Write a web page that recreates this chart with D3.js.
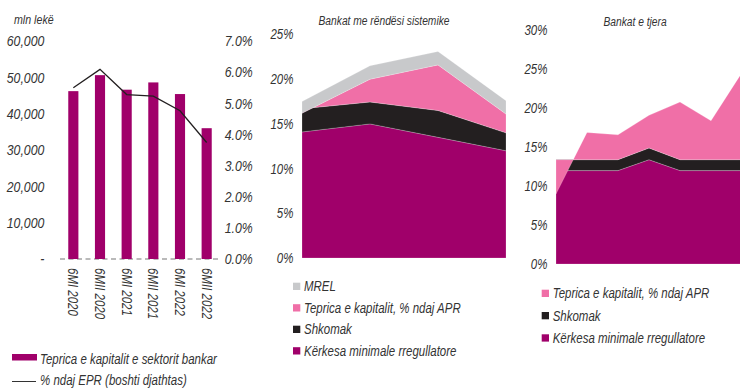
<!DOCTYPE html>
<html>
<head>
<meta charset="utf-8">
<script src="https://cdn.jsdelivr.net/npm/d3@7/dist/d3.min.js"></script>
<style>
  html, body { margin: 0; padding: 0; background: #fff; }
  svg { display: block; }
  svg text {
    font-family: "Liberation Sans", Arial, sans-serif;
    font-style: italic;
    fill: #333;
  }
</style>
</head>
<body>
<svg id="chart" width="740" height="390"></svg>
<script>
// ---- Panel 1: capital surplus of the banking sector ----
const barLabels = ["6MI 2020", "6MII 2020", "6MI 2021", "6MII 2021", "6MI 2022", "6MII 2022"];
const capitalSurplus = [46200, 50600, 46600, 48600, 45400, 36000];   // mln lekë
const surplusPctRWA = [5.50, 6.09, 5.28, 5.23, 4.76, 3.74];         // % of RWA
const leftTicks = [0, 10000, 20000, 30000, 40000, 50000, 60000];
const rightTicks = [0, 1, 2, 3, 4, 5, 6, 7];

// ---- Panel 2: systemically important banks (stacked, %) ----
const sysMinReq  = [14.1, 15.0, 13.5, 12.0];
const sysBuffer  = [2.6, 2.45, 3.0, 2.0];
const sysSurplus = [-0.5, 2.55, 5.1, 2.1];
const sysMrel    = [1.3, 1.5, 1.5, 1.5];
const sysTicks   = [0, 5, 10, 15, 20, 25];

// ---- Panel 3: other banks (stacked, %) ----
const othMinReq  = [12.0, 12.0, 12.0, 13.4, 12.0, 12.0, 12.0];
const othBuffer  = [1.4, 1.4, 1.4, 1.5, 1.4, 1.4, 1.4];
const othSurplus = [-4.4, 3.5, 3.2, 4.2, 7.4, 5.0, 11.2];
const othTicks   = [0, 5, 10, 15, 20, 25, 30];

const C = { purple: "#a0006a", pink: "#f06fa7", black: "#231f20", grey: "#c8c9cb" };
const NARROW = 0.82;   // horizontal squeeze for a condensed look

const svg = d3.select("#chart");

// place a condensed text at (x, y)
function label(parent, x, y, str, size, anchor) {
  return parent.append("text")
    .attr("transform", `translate(${x},${y}) scale(${NARROW},1)`)
    .attr("text-anchor", anchor || "start")
    .style("font-size", size + "px")
    .text(str);
}

function styleAxis(g, size) {
  g.attr("font-family", null).attr("font-size", null);
  g.select(".domain").remove();
  g.selectAll("text")
    .style("font-size", size + "px")
    .attr("transform", `scale(${NARROW},1)`);
}

// ================= Panel 1 =================
const x1 = d3.scaleBand().domain(barLabels).range([60, 220]).paddingInner(0.62).paddingOuter(0.31);
const yL = d3.scaleLinear().domain([0, 60000]).range([259, 41]);
const yR = d3.scaleLinear().domain([0, 7]).range([259, 41]);

label(svg, 14, 24, "mln lekë", 13);

svg.append("g").attr("transform", "translate(46,0)")
  .call(d3.axisLeft(yL).tickValues(leftTicks).tickSize(0).tickPadding(2)
    .tickFormat(d => d === 0 ? "-" : d3.format(",")(d)))
  .call(g => styleAxis(g, 15));

svg.append("g").attr("transform", "translate(223,0)")
  .call(d3.axisRight(yR).tickValues(rightTicks).tickSize(0).tickPadding(2)
    .tickFormat(d => d.toFixed(1) + "%"))
  .call(g => styleAxis(g, 15));

svg.append("line")
  .attr("x1", 60).attr("x2", 220).attr("y1", yL(0)).attr("y2", yL(0))
  .attr("stroke", "#777").attr("stroke-width", 1.2).attr("stroke-dasharray", "5,3.5");

svg.append("g").selectAll("rect").data(capitalSurplus).join("rect")
  .attr("x", (d, i) => x1(barLabels[i]))
  .attr("width", x1.bandwidth())
  .attr("y", d => yL(d))
  .attr("height", d => yL(0) - yL(d))
  .attr("fill", C.purple);

svg.append("path")
  .datum(surplusPctRWA)
  .attr("fill", "none").attr("stroke", C.black).attr("stroke-width", 1.3)
  .attr("d", d3.line()
    .x((d, i) => x1(barLabels[i]) + x1.bandwidth() / 2)
    .y(d => yR(d)));

svg.append("g").selectAll("text").data(barLabels).join("text")
  .attr("transform", d => `translate(${x1(d) + x1.bandwidth() / 2},268) rotate(90) scale(${NARROW},1)`)
  .attr("dy", "0.35em")
  .style("font-size", "14px")
  .text(d => d);

// legend panel 1
svg.append("rect").attr("x", 12).attr("y", 354).attr("width", 25).attr("height", 6.5).attr("fill", C.purple);
label(svg, 40, 363.5, "Teprica e kapitalit e sektorit bankar", 14);
svg.append("line").attr("x1", 12).attr("x2", 36).attr("y1", 381.5).attr("y2", 381.5).attr("stroke", "#333").attr("stroke-width", 1);
label(svg, 40, 384.5, "% ndaj EPR (boshti djathtas)", 14);

// ================= Stacked area panels =================
function stackedPanel(opts) {
  const n = opts.series[0].values.length;
  const rows = d3.range(n).map(i => {
    const r = {};
    opts.series.forEach(s => r[s.key] = s.values[i]);
    return r;
  });
  const keys = opts.series.map(s => s.key);
  // plain sequential stacking: a negative value folds back over the layer below
  const stacked = d3.stack().keys(keys).offset(d3.stackOffsetNone)(rows);

  const x = d3.scalePoint().domain(d3.range(n)).range(opts.xRange);
  const y = d3.scaleLinear().domain([0, d3.max(opts.ticks)]).range(opts.yRange);

  const area = d3.area()
    .x((d, i) => x(i))
    .y0(d => y(d[0]))
    .y1(d => y(d[1]));

  svg.append("g").selectAll("path").data(stacked).join("path")
    .attr("fill", (d, i) => opts.series[i].color)
    .attr("stroke", "rgba(255,255,255,0.35)")
    .attr("stroke-width", 0.6)
    .attr("d", area);

  svg.append("g").attr("transform", `translate(${opts.axisX},0)`)
    .call(d3.axisLeft(y).tickValues(opts.ticks).tickSize(0).tickPadding(2).tickFormat(d => d + "%"))
    .call(g => styleAxis(g, 14));

  label(svg, opts.titleX, opts.titleY, opts.title, 12.5, "middle");

  const leg = svg.append("g");
  opts.legend.forEach((s, i) => {
    const cy = opts.legendY + i * opts.legendStep;
    leg.append("rect").attr("x", opts.legendX).attr("y", cy - 3.6)
      .attr("width", 7.3).attr("height", 7.3).attr("fill", s.color);
    label(leg, opts.legendX + 11, cy + 5, s.key, 14);
  });
}

const sysSeries = [
  { key: "Kërkesa minimale rregullatore", values: sysMinReq, color: C.purple },
  { key: "Shkomak", values: sysBuffer, color: C.black },
  { key: "Teprica e kapitalit, % ndaj APR", values: sysSurplus, color: C.pink },
  { key: "MREL", values: sysMrel, color: C.grey }
];

stackedPanel({
  series: sysSeries,
  xRange: [302, 506],
  yRange: [258, 34.5],
  ticks: sysTicks,
  axisX: 295,
  title: "Bankat me rëndësi sistemike",
  titleX: 384, titleY: 24.5,
  legend: sysSeries.slice().reverse(),
  legendX: 293, legendY: 286.3, legendStep: 21.5
});

const othSeries = [
  { key: "Kërkesa minimale rregullatore", values: othMinReq, color: C.purple },
  { key: "Shkomak", values: othBuffer, color: C.black },
  { key: "Teprica e kapitalit, % ndaj APR", values: othSurplus, color: C.pink }
];

stackedPanel({
  series: othSeries,
  xRange: [556, 742],
  yRange: [264, 30.5],
  ticks: othTicks,
  axisX: 549,
  title: "Bankat e tjera",
  titleX: 635, titleY: 26,
  legend: othSeries.slice().reverse(),
  legendX: 541.7, legendY: 293.3, legendStep: 22.3
});
</script>
</body>
</html>
